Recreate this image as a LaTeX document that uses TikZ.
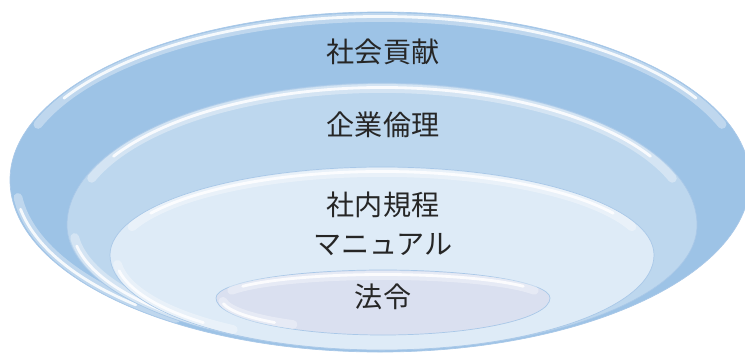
\documentclass[tikz,border=0pt]{standalone}
\usepackage{fontspec}
\newfontfamily\jpfont{Noto Sans CJK JP}
\definecolor{dishA}{HTML}{9DC3E6}
\definecolor{dishB}{HTML}{BDD7EE}
\definecolor{dishC}{HTML}{DEEBF7}
\definecolor{dishD}{HTML}{DAE0F0}
\definecolor{rimline}{HTML}{A9C8E8}
\tikzset{
  gloss/.style={white, line width=5pt, opacity=0.35, line cap=round},
  shine/.style={white, line width=1.6pt, opacity=0.85, line cap=round},
  label/.style={font=\jpfont\fontsize{16}{19}\selectfont, text=black!85, inner sep=1pt}
}
% one layer: #1 fill, #2 #3 centre, #4 x radius, #5 upper y radius, #6 lower y radius
\newcommand{\dish}[6]{%
  \filldraw[fill=#1, draw=rimline, thin] (#2-#4,#3)
    arc[start angle=180, end angle=0, x radius=#4, y radius=#5]
    arc[start angle=0, end angle=-180, x radius=#4, y radius=#6] -- cycle;
  \draw[gloss, shift={(#2,#3)}] (160:{#4-0.12} and {#5-0.11})
    arc[start angle=160, end angle=20, x radius=#4-0.12, y radius=#5-0.11];
  \draw[shine, shift={(#2,#3)}] (150:{#4-0.1} and {#5-0.09})
    arc[start angle=150, end angle=30, x radius=#4-0.1, y radius=#5-0.09];
  \draw[gloss, shift={(#2,#3)}] (186:{#4-0.12} and {#6-0.1})
    arc[start angle=186, end angle=236, x radius=#4-0.12, y radius=#6-0.1];
  \draw[shine, shift={(#2,#3)}] (190:{#4-0.1} and {#6-0.08})
    arc[start angle=190, end angle=228, x radius=#4-0.1, y radius=#6-0.08];
}
\begin{document}
\begin{tikzpicture}
    \useasboundingbox (0,0) rectangle (14.9,7.12);
    % layers of the dish, outside in
    \dish{dishA}{7.6}{3.52}{7.4}{3.36}{3.44}
    \dish{dishB}{7.64}{2.62}{6.3}{2.84}{2.5}
    \dish{dishC}{7.64}{2.02}{5.44}{1.76}{1.9}
    \dish{dishD}{7.66}{1.16}{3.34}{0.56}{0.74}
    % texts
    \node[label] (koken) at (7.66,6.08) {社会貢献};
    \node[label] (rinri) at (7.66,4.62) {企業倫理};
    \node[label] (kitei) at (7.66,3.02) {社内規程};
    \node[label] (manual) at (7.66,2.22) {マニュアル};
    \node[label] (horei) at (7.66,1.18) {法令};
\end{tikzpicture}
\end{document}
